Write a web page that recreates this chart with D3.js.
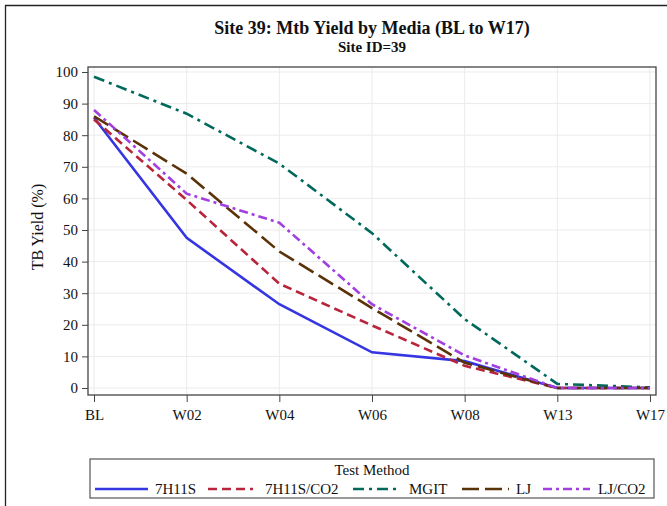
<!DOCTYPE html>
<html lang="en">
<head>
<meta charset="UTF-8">
<title>Site 39: Mtb Yield by Media</title>
<script src="https://d3js.org/d3.v7.min.js"></script>
<style>
  body { margin: 0; background: #fff; }
  svg text { fill: #111; font-family: "Liberation Serif", "Times New Roman", serif !important; }
  .grid line { stroke: #ebebeb; stroke-width: 1; }
  .axis path, .axis line { stroke: #444; }
  .axis text { font-size: 15px; }
</style>
</head>
<body>
<svg id="chart" width="667" height="506"></svg>
<script>
const weeks = ["BL", "W02", "W04", "W06", "W08", "W13", "W17"];
const yTicks = [0, 10, 20, 30, 40, 50, 60, 70, 80, 90, 100];

const y7H11S    = [85.5, 47.5, 26.5, 11.3, 8.5, 0, 0];
const y7H11SCO2 = [85, 59.5, 33, 19.8, 7, 0, 0];
const yMGIT     = [98.5, 86.8, 71, 49, 21.8, 1.3, 0.2];
const yLJ       = [86, 67.8, 43.2, 25.3, 8, 0, 0];
const yLJCO2    = [88, 61.5, 52.3, 26.5, 10.3, 0, 0];

const seriesNames = ["7H11S", "7H11S/CO2", "MGIT", "LJ", "LJ/CO2"];
const seriesValues = [y7H11S, y7H11SCO2, yMGIT, yLJ, yLJCO2];
const colors = ["#3535e2", "#b8243a", "#00695c", "#5a3208", "#a23fe0"];
const dashes = [null, "9,5", "11,5,3,5", "17,6", "9,4,3,4"];

const svg = d3.select("#chart");

// outer border
svg.append("path")
  .attr("d", "M5.5,506 V5.5 H667")
  .attr("fill", "none").attr("stroke", "#222").attr("stroke-width", 1.3);

// titles
svg.append("text").attr("x", 372).attr("y", 34).attr("text-anchor", "middle")
  .style("font-size", "18px").style("font-weight", "bold").text("Site 39: Mtb Yield by Media (BL to W17)");
svg.append("text").attr("x", 372).attr("y", 52).attr("text-anchor", "middle")
  .style("font-size", "15px").style("font-weight", "bold").text("Site ID=39");

const pLeft = 88, pRight = 656, pTop = 67, pBottom = 395;

const x = d3.scalePoint().domain(weeks).range([pLeft, pRight]).padding(0.065);
const y = d3.scaleLinear().domain([0, 100]).range([388, 72]);

// grid
const grid = svg.append("g").attr("class", "grid");
grid.selectAll(".gy").data(yTicks).join("line")
  .attr("x1", pLeft).attr("x2", pRight).attr("y1", d => y(d)).attr("y2", d => y(d));
grid.selectAll(".gx").data(weeks).join("line")
  .attr("x1", d => x(d)).attr("x2", d => x(d)).attr("y1", pTop).attr("y2", pBottom);

// axes
svg.append("g").attr("class", "axis")
  .attr("transform", `translate(0,${pBottom})`)
  .call(d3.axisBottom(x).tickSize(7).tickPadding(5).tickSizeOuter(0))
  .call(g => g.select(".domain").remove())
  .selectAll("text").attr("dy", "0.85em");

svg.append("g").attr("class", "axis")
  .attr("transform", `translate(${pLeft},0)`)
  .call(d3.axisLeft(y).tickValues(yTicks).tickSize(6).tickPadding(4))
  .call(g => g.select(".domain").remove());

// frame
svg.append("rect").attr("x", pLeft).attr("y", pTop)
  .attr("width", pRight - pLeft).attr("height", pBottom - pTop)
  .attr("fill", "none").attr("stroke", "#444").attr("stroke-width", 1.3);

// y label
svg.append("text").attr("transform", "translate(43,227) rotate(-90)")
  .attr("text-anchor", "middle").style("font-size", "16px").text("TB Yield (%)");

// lines
const line = d3.line().x((d, i) => x(weeks[i])).y(d => y(d));
seriesValues.forEach((vals, k) => {
  svg.append("path").datum(vals)
    .attr("d", line)
    .attr("fill", "none")
    .attr("stroke", colors[k])
    .attr("stroke-width", 2.6)
    .attr("stroke-dasharray", dashes[k]);
});

// legend
const lg = svg.append("g");
lg.append("rect").attr("x", 90).attr("y", 459).attr("width", 564).attr("height", 39)
  .attr("fill", "none").attr("stroke", "#555").attr("stroke-width", 1.2);
lg.append("text").attr("x", 372).attr("y", 475).attr("text-anchor", "middle")
  .style("font-size", "15px").text("Test Method");

const legendPos = [
  { x1: 95, x2: 148, tx: 155 },
  { x1: 208, x2: 253, tx: 265 },
  { x1: 353, x2: 398, tx: 409 },
  { x1: 462, x2: 509, tx: 516 },
  { x1: 543, x2: 590, tx: 598 }
];
seriesNames.forEach((name, k) => {
  const p = legendPos[k];
  lg.append("line").attr("x1", p.x1).attr("x2", p.x2).attr("y1", 489).attr("y2", 489)
    .attr("stroke", colors[k]).attr("stroke-width", 2.6).attr("stroke-dasharray", dashes[k]);
  lg.append("text").attr("x", p.tx).attr("y", 494).style("font-size", "15px").text(name);
});
</script>
</body>
</html>
